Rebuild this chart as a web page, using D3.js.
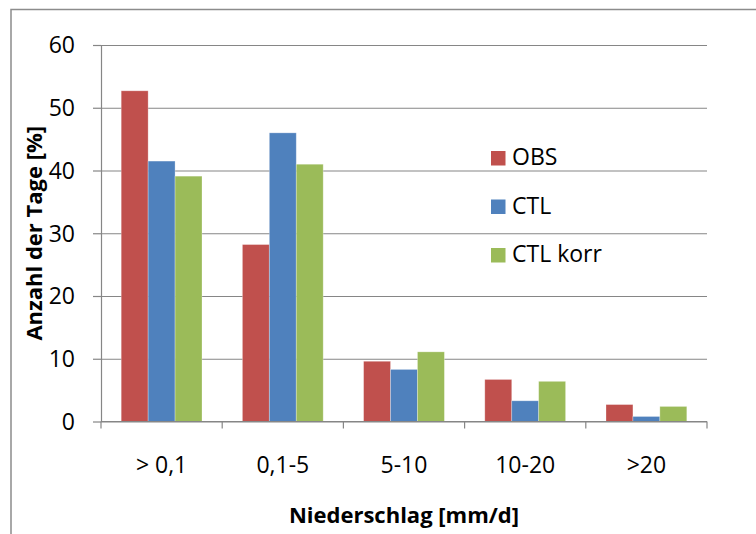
<!DOCTYPE html>
<html>
<head>
<meta charset="utf-8">
<script src="https://cdn.jsdelivr.net/npm/d3@7"></script>
<style>
  body { margin: 0; background: #fff; }
  text { font-family: "Open Sans", "Noto Sans", sans-serif; fill: #000; }
  .axisTitle { font-weight: bold; font-size: 22px; }
  .tickLabel { font-size: 23px; }
  .legendText { font-size: 23px; }
</style>
</head>
<body>
<div id="chart"></div>
<script>
// categories (Niederschlag classes) and series values in %
var categories = ["> 0,1", "0,1-5", "5-10", "10-20", ">20"];
var seriesNames = ["OBS", "CTL", "CTL korr"];
var obsValues = [52.7, 28.2, 9.6, 6.7, 2.7];
var ctlValues = [41.5, 46.0, 8.3, 3.3, 0.8];
var ctlKorrValues = [39.1, 41.0, 11.1, 6.4, 2.4];
var yTicks = [0, 10, 20, 30, 40, 50, 60];
var seriesColors = ["#C0504D", "#4F81BD", "#9BBB59"];

/**
 * Constructor for the rain class chart
 */
function RainChart(){
    var self = this;
    self.init();
};

/**
 * Sets up the svg and the frame around the chart
 */
RainChart.prototype.init = function(){
    var self = this;
    self.width = 756;
    self.height = 534;
    self.plot = {left: 101, right: 707, top: 45, bottom: 421.5};

    self.svg = d3.select("#chart").append("svg")
        .attr("width", self.width)
        .attr("height", self.height);

    // chart frame, only left and top edges are inside the picture
    self.svg.append("rect")
        .attr("x", 11)
        .attr("y", 9.5)
        .attr("width", 800)
        .attr("height", 600)
        .attr("fill", "none")
        .attr("stroke", "#8c8c8c")
        .attr("stroke-width", 1.5);
};

/**
 * Draws axes, grid, bars and legend
 */
RainChart.prototype.update = function(){
    var self = this;
    var p = self.plot;

    var data = categories.map(function(c, i){
        return {cat: c, values: [obsValues[i], ctlValues[i], ctlKorrValues[i]]};
    });

    var xScale = d3.scaleBand()
        .domain(categories)
        .range([p.left, p.right])
        .paddingInner(0)
        .paddingOuter(0);

    var xSub = d3.scaleBand()
        .domain(seriesNames)
        .range([0, xScale.bandwidth()])
        .paddingInner(0)
        .paddingOuter(0.75);

    var yScale = d3.scaleLinear()
        .domain([0, 60])
        .range([p.bottom, p.top]);

    //gridlines
    self.svg.append("g")
        .attr("transform", "translate(" + p.left + ",0)")
        .call(d3.axisLeft(yScale).tickValues(yTicks).tickSize(-(p.right - p.left)).tickFormat(""))
        .call(function(g){
            g.select(".domain").remove();
            g.selectAll("line").attr("stroke", "#868686").attr("stroke-width", 1.2);
        });

    //bars
    var groups = self.svg.selectAll(".group")
        .data(data)
        .enter().append("g")
        .attr("class", "group")
        .attr("transform", function(d){ return "translate(" + xScale(d.cat) + ",0)"; });

    groups.selectAll("rect")
        .data(function(d){
            return d.values.map(function(v, i){ return {name: seriesNames[i], value: v, idx: i}; });
        })
        .enter().append("rect")
        .attr("x", function(d){ return xSub(d.name); })
        .attr("y", function(d){ return yScale(d.value); })
        .attr("width", xSub.bandwidth())
        .attr("height", function(d){ return yScale(0) - yScale(d.value); })
        .attr("fill", function(d){ return seriesColors[d.idx]; })
        .attr("stroke", "#ffffff")
        .attr("stroke-opacity", 0.35)
        .attr("stroke-width", 0.8);

    //y axis
    self.svg.append("g")
        .attr("transform", "translate(" + p.left + ",0)")
        .call(d3.axisLeft(yScale).tickValues(yTicks).tickSizeInner(8).tickSizeOuter(0).tickPadding(18))
        .call(function(g){
            g.select(".domain").attr("stroke", "#868686").attr("stroke-width", 1.2);
            g.selectAll("line").attr("stroke", "#868686").attr("stroke-width", 1.2);
            g.selectAll("text")
                .attr("class", "tickLabel")
                .attr("dy", "0.34em")
                .attr("fill", "#000");
        })
        .attr("font-family", null)
        .attr("font-size", null);

    //x axis, ticks sit at the category boundaries
    var boundaries = categories.map(function(c){ return xScale(c); }).concat([p.right]);
    var xAxis = self.svg.append("g");
    xAxis.append("line")
        .attr("x1", p.left).attr("x2", p.right)
        .attr("y1", yScale(0)).attr("y2", yScale(0))
        .attr("stroke", "#868686").attr("stroke-width", 1.2);
    xAxis.selectAll(".xtick")
        .data(boundaries)
        .enter().append("line")
        .attr("class", "xtick")
        .attr("x1", function(d){ return d; }).attr("x2", function(d){ return d; })
        .attr("y1", yScale(0)).attr("y2", yScale(0) + 7)
        .attr("stroke", "#868686").attr("stroke-width", 1.2);
    xAxis.selectAll(".xlabel")
        .data(categories)
        .enter().append("text")
        .attr("class", "tickLabel")
        .attr("x", function(d){ return xScale(d) + xScale.bandwidth() / 2; })
        .attr("y", 472.5)
        .attr("text-anchor", "middle")
        .text(function(d){ return d; });

    //axis titles
    self.svg.append("text")
        .attr("class", "axisTitle")
        .attr("x", (p.left + p.right) / 2)
        .attr("y", 523)
        .attr("text-anchor", "middle")
        .text("Niederschlag [mm/d]");

    self.svg.append("text")
        .attr("class", "axisTitle")
        .attr("transform", "translate(42," + ((p.top + p.bottom) / 2) + ") rotate(-90)")
        .attr("text-anchor", "middle")
        .text("Anzahl der Tage [%]");

    //legend
    var legend = self.svg.selectAll(".legendItem")
        .data(seriesNames)
        .enter().append("g")
        .attr("class", "legendItem")
        .attr("transform", function(d, i){ return "translate(491," + (151 + i * 48.5) + ")"; });

    legend.append("rect")
        .attr("width", 14.5)
        .attr("height", 14.5)
        .attr("fill", function(d, i){ return seriesColors[i]; });

    legend.append("text")
        .attr("class", "legendText")
        .attr("x", 21)
        .attr("y", 14.3)
        .text(function(d){ return d; });
};

var chart = new RainChart();
chart.update();
</script>
</body>
</html>
